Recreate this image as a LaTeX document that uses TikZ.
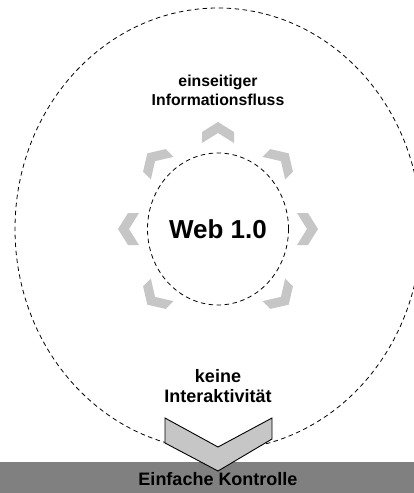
\documentclass[tikz,border=0pt]{standalone}
\usepackage{fontspec}
\setmainfont{Liberation Sans}
\usetikzlibrary{shapes.geometric}
\definecolor{chevgray}{HTML}{C6C6C6}
\definecolor{bargray}{HTML}{808080}
\tikzset{
  ring/.style={draw, dashed, ellipse, line width=0.8pt, inner sep=0pt,
    dash pattern=on 4.5pt off 3.5pt},
  label/.style={font=\bfseries\fontsize{15.8}{19}\selectfont, align=center, inner sep=0pt},
  biglabel/.style={font=\bfseries\fontsize{18}{20}\selectfont, align=center, inner sep=0pt},
  smallchev/.style={fill=chevgray, draw=none},
}
\begin{document}
\begin{tikzpicture}[x=1pt, y=-1pt]
  \useasboundingbox (0,0) rectangle (414,493);

  % outer and inner dashed rings
  \node[ring, minimum width=406, minimum height=442] (outer) at (218,229) {};
  \node[ring, minimum width=141, minimum height=152,
        font=\bfseries\fontsize{26}{28}\selectfont] (web) at (218,229) {Web 1.0};

  % small chevrons pointing outward around the inner ring
  \foreach \a in {0,45,90,135,180,225,315} {
    \begin{scope}[shift={({218+100*cos(\a)}, {229-107*sin(\a)})}, rotate=\a-90]
      \fill[smallchev] (-16,10) -- (0,0) -- (16,10) -- (16,21) -- (0,11) -- (-16,21) -- cycle;
    \end{scope}
  }

  % labels
  \node[label] (flow) at (218,90) {einseitiger\\Informationsfluss};
  \node[biglabel] (inter) at (218,386.5) {keine\\Interaktivität};

  % control bar with the big chevron on top of it
  \node[fill=bargray, minimum width=414, minimum height=31, inner sep=0pt] (bar) at (207,477.5) {};
  \draw[fill=chevgray, line width=0.9pt, line join=miter]
    (165,418) -- (218,447) -- (272,418) -- (272,439) -- (218,471) -- (165,443) -- cycle;
  \node[font=\bfseries\fontsize{18}{20}\selectfont, inner sep=0pt, anchor=base] (ctrl)
    at (218,485.5) {Einfache Kontrolle};
\end{tikzpicture}
\end{document}
